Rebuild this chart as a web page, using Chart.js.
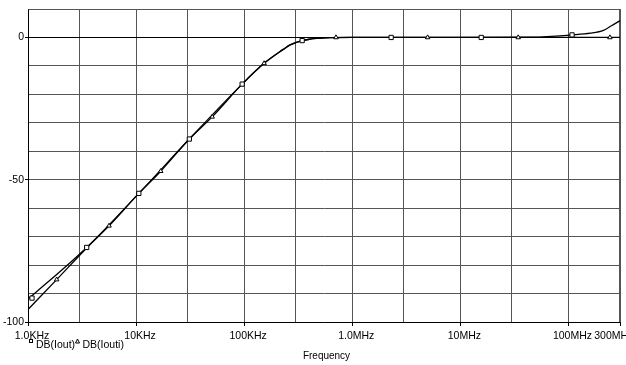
<!DOCTYPE html>
<html>
<head>
<meta charset="utf-8">
<script src="https://cdn.jsdelivr.net/npm/chart.js@4.4.1/dist/chart.umd.min.js"></script>
<style>
html,body{margin:0;padding:0;background:#fff;}
#wrap{width:626px;height:365px;position:relative;}
</style>
</head>
<body>
<div id="wrap"><canvas id="c" width="626" height="365"></canvas></div>
<script>
// ---- data ----
const ioutFreq = [1000, 3490, 10600, 31100, 95800, 153000, 230000, 266000, 344000, 407000, 471000, 627000, 1000000, 10000000, 47000000, 108000000, 160000000, 211000000, 250000000, 300000000];
const ioutDb   = [-92.0, -73.8, -54.8, -35.7, -16.4, -9.1, -4.2, -2.6, -1.1, -0.6, -0.35, -0.05, 0, 0, 0.1, 0.9, 1.5, 2.5, 4.1, 5.9];

const ioutiFreq = [1000, 1842, 3490, 5620, 10600, 16900, 31100, 50600, 95800, 153000, 230000, 266000, 344000, 407000, 471000, 627000, 1000000, 10000000, 100000000, 300000000];
const ioutiDb   = [-95.6, -85.1, -74.0, -66.2, -54.8, -47.0, -35.7, -27.9, -16.4, -9.1, -4.2, -2.6, -1.1, -0.6, -0.35, -0.05, 0, 0, 0, 0];

const ioutMarkFreq = [1089, 3490, 10600, 31100, 95800, 344000, 2290000, 15600000, 108000000];
const ioutMarkDb   = [-91.6, -73.8, -54.8, -35.7, -16.4, -1.1, 0, 0, 0.9];
const ioutiMarkFreq = [1842, 5620, 16900, 50600, 153000, 707000, 4980000, 34300000, 242000000];
const ioutiMarkDb   = [-85.1, -66.2, -47.0, -27.9, -9.1, 0, 0, 0, 0];

const xTickValues = [1e3, 3e3, 1e4, 3e4, 1e5, 3e5, 1e6, 3e6, 1e7, 3e7, 1e8, 3e8];
const xTickLabels = ['1.0KHz', '', '10KHz', '', '100KHz', '', '1.0MHz', '', '10MHz', '', '100MHz', '300MHz'];
const yLabeled = [0, -50, -100];
const seriesNames = ['DB(Iout)', 'DB(Iouti)'];
const xTitle = 'Frequency';

const FONT = "'Liberation Sans', Arial, sans-serif";
const GRID = '#555';
const pts = (xs, ys) => xs.map((x, i) => ({x: x, y: ys[i]}));

const framePlugin = {
  id: 'frame',
  beforeDatasetsDraw(chart) {
    const ctx = chart.ctx, ca = chart.chartArea;
    ctx.save();
    ctx.strokeStyle = GRID;
    ctx.lineWidth = 1;
    ctx.beginPath();
    ctx.moveTo(Math.round(ca.left) + 0.5, Math.round(ca.top) + 0.5);
    ctx.lineTo(Math.round(ca.right) - 0.5, Math.round(ca.top) + 0.5);
    ctx.lineTo(Math.round(ca.right) - 0.5, Math.round(ca.bottom));
    ctx.stroke();
    ctx.restore();
  }
};

const legendPlugin = {
  id: 'customLegend',
  afterDraw(chart) {
    const ctx = chart.ctx;
    ctx.save();
    ctx.strokeStyle = '#000';
    ctx.fillStyle = '#000';
    ctx.lineWidth = 1;
    // square symbol
    ctx.strokeRect(29.5, 339.5, 3, 3);
    ctx.font = '10.5px ' + FONT;
    ctx.textBaseline = 'middle';
    ctx.textAlign = 'left';
    ctx.fillText(seriesNames[0], 36, 345.5);
    // triangle symbol
    ctx.beginPath();
    ctx.moveTo(77.5, 339);
    ctx.lineTo(79.5, 343);
    ctx.lineTo(75.5, 343);
    ctx.closePath();
    ctx.stroke();
    ctx.fillText(seriesNames[1], 82.5, 345.5);
    // axis title
    ctx.font = '10px ' + FONT;
    ctx.textAlign = 'center';
    const ca = chart.chartArea;
    ctx.fillText(xTitle, (ca.left + ca.right) / 2 + 2.5, 356);
    ctx.restore();
  }
};

new Chart(document.getElementById('c'), {
  type: 'line',
  data: {
    datasets: [
      { label: seriesNames[0] + ' markers', type: 'scatter', data: pts(ioutMarkFreq, ioutMarkDb),
        pointStyle: 'rect', pointRadius: 3, pointBorderWidth: 1, pointBorderColor: '#000', pointBackgroundColor: '#fff', showLine: false },
      { label: seriesNames[1] + ' markers', type: 'scatter', data: pts(ioutiMarkFreq, ioutiMarkDb),
        pointStyle: 'triangle', pointRadius: 2.6, pointBorderWidth: 1, pointBorderColor: '#000', pointBackgroundColor: '#fff', showLine: false },
      { label: seriesNames[0], data: pts(ioutFreq, ioutDb), borderColor: '#000', borderWidth: 1.3,
        pointRadius: 0, cubicInterpolationMode: 'monotone', fill: false },
      { label: seriesNames[1], data: pts(ioutiFreq, ioutiDb), borderColor: '#000', borderWidth: 1.3,
        pointRadius: 0, cubicInterpolationMode: 'monotone', fill: false }
    ]
  },
  options: {
    responsive: false,
    animation: false,
    devicePixelRatio: 1,
    layout: { padding: { top: 9, right: 6, left: 0, bottom: 0 } },
    plugins: { legend: { display: false }, tooltip: { enabled: false } },
    scales: {
      x: {
        type: 'logarithmic', min: 1000, max: 3e8,
        afterBuildTicks: s => { s.ticks = xTickValues.map(v => ({ value: v })); },
        afterFit: s => { s.height = 43; s.paddingLeft = 0; s.paddingRight = 0; },
        ticks: {
          autoSkip: false, maxRotation: 0, minRotation: 0, padding: 4, labelOffset: 4, color: '#000',
          font: { family: FONT, size: 10.5 },
          // last label sits against the right edge: pad it so it starts just after "100MHz"
          callback: (v, i) => (i === xTickLabels.length - 1 ? xTickLabels[i] + '\u00a0'.repeat(7) : xTickLabels[i])
        },
        grid: {
          color: GRID, lineWidth: 1, tickLength: 4,
          tickColor: c => (xTickLabels[c.index] ? '#000' : 'rgba(0,0,0,0)')
        },
        border: { display: true, color: '#000', width: 1 }
      },
      y: {
        type: 'linear', min: -100, max: 10,
        afterFit: s => { s.width = 28; s.paddingTop = 0; s.paddingBottom = 0; },
        ticks: {
          stepSize: 10, autoSkip: false, padding: 1, color: '#000',
          font: { family: FONT, size: 10.5 },
          callback: v => (yLabeled.includes(v) ? String(v) : '')
        },
        grid: {
          color: c => (c.tick && c.tick.value === 0 ? '#000' : GRID),
          lineWidth: 1, tickLength: 3,
          tickColor: c => (c.tick && yLabeled.includes(c.tick.value) ? '#000' : 'rgba(0,0,0,0)')
        },
        border: { display: true, color: '#000', width: 1 }
      }
    }
  },
  plugins: [framePlugin, legendPlugin]
});
</script>
</body>
</html>
